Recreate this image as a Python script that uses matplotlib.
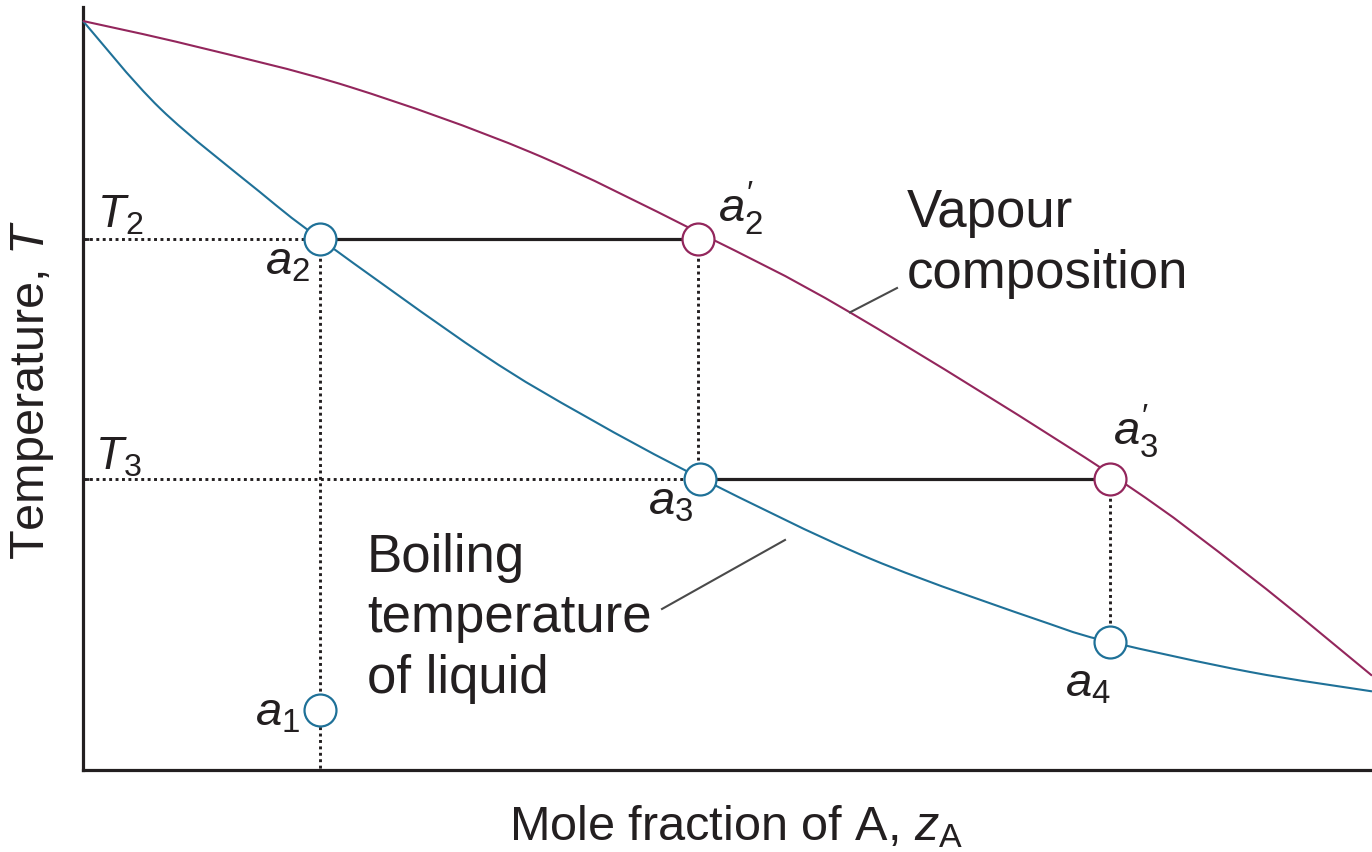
import numpy as np
import matplotlib
matplotlib.use("Agg")
import matplotlib.pyplot as plt
from matplotlib.path import Path
from matplotlib.patches import PathPatch

# Boiling (liquid) curve: mole fraction vs temperature
liquid_x = [0.000, 0.060, 0.137, 0.184, 0.310, 0.391, 0.480, 0.611, 0.750, 0.797, 0.905, 1.000]
liquid_t = [1.000, 0.883, 0.772, 0.709, 0.555, 0.471, 0.389, 0.282, 0.195, 0.171, 0.131, 0.105]

# Vapour composition curve
vapour_x = [0.000, 0.085, 0.207, 0.347, 0.477, 0.595, 0.798, 0.905, 1.000]
vapour_t = [1.000, 0.967, 0.912, 0.825, 0.718, 0.611, 0.394, 0.259, 0.126]

# Temperature levels
t2 = 0.709
t3 = 0.389

# State points
liq_names = ["a_{1}", "a_{2}", "a_{3}", "a_{4}"]
liq_px = [0.184, 0.184, 0.479, 0.797]
liq_pt = [0.080, t2, t3, 0.171]

vap_names = ["a_{2}^{\\prime}", "a_{3}^{\\prime}"]
vap_px = [0.477, 0.797]
vap_pt = [t2, t3]

BLUE = "#1f7198"
RED = "#93265c"
INK = "#231f20"

plt.rcParams["font.family"] = ["Liberation Sans", "DejaVu Sans"]
plt.rcParams["mathtext.fontset"] = "custom"
plt.rcParams["mathtext.it"] = "Liberation Sans:italic"
plt.rcParams["mathtext.rm"] = "Liberation Sans"


def smooth_path(xs, ys):
    """Bezier path passing through every read point (Catmull-Rom style handles)."""
    pts = np.column_stack([xs, ys])
    ext = np.vstack([pts[0], pts, pts[-1]])
    verts = [pts[0]]
    codes = [Path.MOVETO]
    for i in range(1, len(ext) - 2):
        p0, p1, p2, p3 = ext[i - 1], ext[i], ext[i + 1], ext[i + 2]
        verts += [p1 + (p2 - p0) / 6, p2 - (p3 - p1) / 6, p2]
        codes += [Path.CURVE4] * 3
    return Path(verts, codes)


def plot_phase_diagram():
    fig = plt.figure(figsize=(13.72, 8.53), dpi=100)
    ax = fig.add_axes([83 / 1372, 82 / 853, 1289 / 1372, 763 / 853])
    ax.set_xlim(0, 1)
    ax.set_ylim(0, 763 / 749)

    # frame: only left and bottom
    for side in ("top", "right"):
        ax.spines[side].set_visible(False)
    for side in ("left", "bottom"):
        ax.spines[side].set_linewidth(2.3)
        ax.spines[side].set_color(INK)
    ax.set_xticks([])
    ax.set_yticks([t2, t3])
    ax.set_yticklabels([])
    ax.tick_params(axis="y", direction="in", length=4, width=2, color=INK)

    dot = dict(color=INK, lw=2.1, linestyle=(0, (1, 1.2)), zorder=2)
    # horizontal dotted guides to the axis
    ax.plot([0, liq_px[1]], [t2, t2], **dot)
    ax.plot([0, liq_px[2]], [t3, t3], **dot)
    # vertical dotted drops
    ax.plot([liq_px[1], liq_px[1]], [t2, 0], **dot)
    ax.plot([vap_px[0], vap_px[0]], [t2, t3], **dot)
    ax.plot([vap_px[1], vap_px[1]], [t3, liq_pt[3]], **dot)

    # tie lines
    ax.plot([liq_px[1], vap_px[0]], [t2, t2], color=INK, lw=2.3, zorder=2)
    ax.plot([liq_px[2], vap_px[1]], [t3, t3], color=INK, lw=2.3, zorder=2)

    # the two curves
    for xs, ys, col in [(liquid_x, liquid_t, BLUE), (vapour_x, vapour_t, RED)]:
        ax.add_patch(PathPatch(smooth_path(xs, ys), facecolor="none", edgecolor=col,
                               lw=1.5, zorder=3, clip_on=False))

    # open circles
    ax.plot(liq_px, liq_pt, "o", ms=23, mfc="white", mec=BLUE, mew=1.6,
            linestyle="none", zorder=4)
    ax.plot(vap_px, vap_pt, "o", ms=23, mfc="white", mec=RED, mew=1.6,
            linestyle="none", zorder=4)

    # point labels (offsets in pixels from each circle)
    liq_off = [(-65, -14), (-55, -35), (-52, -35), (-45, -54)]
    vap_off = [(20, 18), (3, 35)]
    for name, x, y, off in zip(liq_names, liq_px, liq_pt, liq_off):
        ax.annotate("$" + name + "$", (x, y), xytext=off, textcoords="offset pixels",
                    ha="left", va="baseline", fontsize=34, color=INK)
    for name, x, y, off in zip(vap_names, vap_px, vap_pt, vap_off):
        ax.annotate("$" + name + "$", (x, y), xytext=off, textcoords="offset pixels",
                    ha="left", va="baseline", fontsize=34, color=INK)

    # T2 / T3 labels next to the axis
    ax.annotate("$T_{2}$", (0, t2), xytext=(14, 12), textcoords="offset pixels",
                ha="left", va="baseline", fontsize=33, color=INK)
    ax.annotate("$T_{3}$", (0, t3), xytext=(12, 10), textcoords="offset pixels",
                ha="left", va="baseline", fontsize=33, color=INK)

    # curve captions with leader lines
    for line, y in zip(["Vapour", "composition"], [0.7263, 0.6449]):
        ax.text(0.6393, y, line, fontsize=38, color=INK, ha="left", va="baseline")
    for line, y in zip(["Boiling", "temperature", "of liquid"], [0.2657, 0.1856, 0.1041]):
        ax.text(0.2203, y, line, fontsize=38, color=INK, ha="left", va="baseline")

    vx = 0.595
    ax.plot([vx, 0.6315], [np.interp(vx, vapour_x, vapour_t), 0.6435],
            color="#4a4a4a", lw=1.5, zorder=3)
    ax.plot([0.5446, 0.4492], [0.3071, 0.215], color="#4a4a4a", lw=1.5, zorder=3)

    # axis titles
    fig.text(736 / 1372, 1 - 840 / 853, r"Mole fraction of A, $z_{\mathrm{A}}$",
             ha="center", va="baseline", fontsize=35, color=INK)
    fig.text(33 / 1372, 1 - 390 / 853, r"Temperature, $T$", rotation=90,
             ha="center", va="center", fontsize=35, color=INK)

    fig.savefig("out.png", dpi=100)


if __name__ == "__main__":
    plot_phase_diagram()
